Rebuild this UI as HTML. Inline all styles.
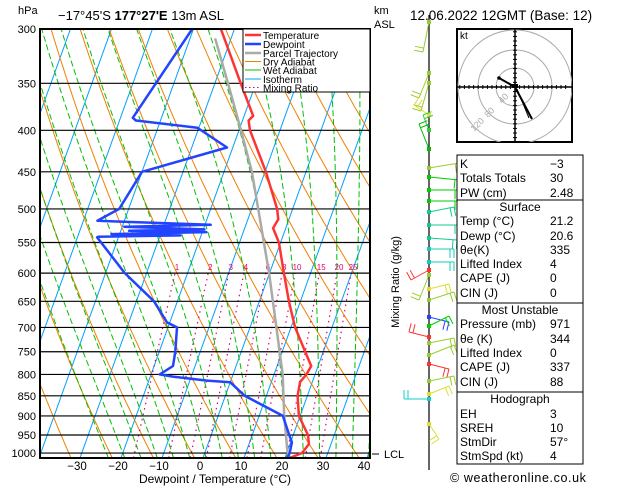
<!DOCTYPE html>
<html><head><meta charset="utf-8">
<style>
html,body{margin:0;padding:0;background:#fff;}
svg{display:block;font-family:"Liberation Sans",sans-serif;}
</style></head>
<body>
<svg id="chart" width="629" height="486" viewBox="0 0 629 486" xmlns="http://www.w3.org/2000/svg">
<defs><clipPath id="plotclip"><rect x="40" y="29" width="330" height="429"/></clipPath>
<clipPath id="hodoclip"><rect x="457" y="29" width="115" height="113"/></clipPath></defs>
<rect x="0" y="0" width="629" height="486" fill="#fff"/>
<g id="bg" clip-path="url(#plotclip)"></g>
<g id="grid"></g>
<g id="series" clip-path="url(#plotclip)"></g>
<rect x="40" y="29" width="330" height="429" fill="none" stroke="#000" stroke-width="2"/>
<g id="axes"></g>
<text x="18" y="14" font-size="11">hPa</text>
<text x="58" y="20" font-size="13">−17°45'S <tspan font-weight="bold">177°27'E</tspan> 13m ASL</text>
<text x="374" y="14" font-size="11">km</text>
<text x="374" y="28" font-size="11">ASL</text>
<text x="410" y="20" font-size="13.5">12.06.2022 12GMT (Base: 12)</text>
<text x="215" y="483" font-size="12" text-anchor="middle">Dewpoint / Temperature (°C)</text>
<text transform="translate(399,282) rotate(-90)" font-size="11" text-anchor="middle">Mixing Ratio (g/kg)</text>
<line x1="372" y1="454" x2="379" y2="454" stroke="#000"/>
<text x="384" y="458" font-size="11">LCL</text>
<g>
<rect x="243" y="29" width="127" height="63" fill="#fff" stroke="#000" stroke-width="1"/>
<line x1="245" y1="35" x2="261" y2="35" stroke="#f33" stroke-width="2.5"/>
<text x="263" y="39" font-size="10">Temperature</text>
<line x1="245" y1="44" x2="261" y2="44" stroke="#2244ff" stroke-width="2.5"/>
<text x="263" y="48" font-size="10">Dewpoint</text>
<line x1="245" y1="53" x2="261" y2="53" stroke="#aaa" stroke-width="2.5"/>
<text x="263" y="57" font-size="10">Parcel Trajectory</text>
<line x1="245" y1="61.5" x2="261" y2="61.5" stroke="#f08000"/>
<text x="263" y="65.5" font-size="10">Dry Adiabat</text>
<line x1="245" y1="70" x2="261" y2="70" stroke="#00c000"/>
<text x="263" y="74" font-size="10">Wet Adiabat</text>
<line x1="245" y1="79" x2="261" y2="79" stroke="#00a0ff"/>
<text x="263" y="83" font-size="10">Isotherm</text>
<line x1="245" y1="87.5" x2="261" y2="87.5" stroke="#e0007a" stroke-dasharray="1.5,2.5"/>
<text x="263" y="91.5" font-size="10">Mixing Ratio</text>
</g>
<g id="barbs"></g>
<g>
<rect x="457" y="29" width="115" height="113" fill="#fff" stroke="#000" stroke-width="2"/>
<g clip-path="url(#hodoclip)" fill="none" stroke="#aaa">
<circle cx="515" cy="87" r="19"/><circle cx="515" cy="87" r="37"/><circle cx="515" cy="87" r="57"/>
</g>
<g id="hodoaxes" stroke="#000"></g>
<text x="460" y="39" font-size="10">kt</text>
<g fill="#aaa" font-size="9">
<text transform="translate(502,104) rotate(-45)">40</text>
<text transform="translate(488,118) rotate(-45)">80</text>
<text transform="translate(474,132) rotate(-45)">120</text>
</g>
<polyline points="499,78 515,87 532,119" fill="none" stroke="#000" stroke-width="2"/>
<line x1="517" y1="89" x2="529" y2="118" stroke="#000" stroke-width="1"/>
<circle cx="499" cy="78" r="1.8" fill="#000"/>
<rect x="512" y="84" width="6" height="4" fill="#000"/>
</g>
<g id="tables" font-size="12"></g>
<text x="450" y="482" font-size="12.5" letter-spacing="0.6">© weatheronline.co.uk</text>
</svg>
<script>
const pressureLevels = [300,350,400,450,500,550,600,650,700,750,800,850,900,950,1000];
const tempTicks = [-30,-20,-10,0,10,20,30,40];
const mixingRatios = [1,2,3,4,6,8,10,15,20,25];
const tempP = [300,350,384,389,400,450,500,515,528,550,600,650,700,750,781,800,817,850,900,950,975,1000,1014];
const tempT = [-33.3,-23.7,-17.8,-18.5,-17.3,-9.8,-3.8,-2.6,-3.1,-0.4,3.5,7.2,11,15.6,18.3,17.9,17,17.6,19.7,23.6,24.6,23.7,21.2];
const dewP = [300,386,389,397,420,450,500,517,518,523,526,530,532,534,537,539,541,542,600,650,690,700,750,781,800,805,814,818,850,900,950,970,1000,1014];
const dewT = [-40.3,-47,-46,-30.4,-21.4,-40,-42.3,-46.6,-42.6,-18.6,-39.5,-19.7,-38,-19,-42,-25,-45,-45.2,-35.3,-25.7,-20.7,-17.8,-16.1,-15.4,-17.9,-14.5,-5.8,0,4.7,15.8,19,20.3,20.7,20.6];
const parcelP = [308,350,400,450,500,600,800,900,1000,1014];
const parcelT = [-33.9,-26.8,-19.5,-13.2,-8.4,-0.1,12.1,16.1,20.2,21.2];

const NS='http://www.w3.org/2000/svg';
function y(p){return 29+352.2*Math.log(p/300);}
function x(T,p){return 203+4.1*T+0.36*(458-y(p));}
function mk(tag,attrs,parent){const e=document.createElementNS(NS,tag);for(const k in attrs)e.setAttribute(k,attrs[k]);parent.appendChild(e);return e;}
const bg=document.getElementById('bg'),grid=document.getElementById('grid'),series=document.getElementById('series'),axes=document.getElementById('axes');
function pathFrom(pts){return 'M'+pts.map(q=>q[0].toFixed(1)+','+q[1].toFixed(1)).join('L');}
const PB=1014;
for(let T=-120;T<=50;T+=10){
  const e=mk('path',{d:pathFrom([[x(T,PB),y(PB)],[x(T,280),y(280)]]),stroke:'#00a0ff',fill:'none','stroke-width':1},bg);
  
  
}
for(let th=230;th<=480;th+=10){
  const pts=[];for(let p=PB;p>=290;p-=10){pts.push([x(th*Math.pow(p/1000,0.286)-273.15,p),y(p)]);}
  const e=mk('path',{d:pathFrom(pts),stroke:'#f08000',fill:'none','stroke-width':1},bg);
  
  
}
function es(T){return 6.112*Math.exp(17.67*T/(T+243.5));}
function lapse(Tk,pp){const e=es(Tk-273.15);const rs=0.622*e/(pp-e);const L=2.5e6,Rd=287,cp=1004;return (Rd*Tk+L*rs)/(cp+L*L*rs*0.622/(Rd*Tk*Tk))/pp;}
for(let tw=-24;tw<=40;tw+=4){
  let T=tw+273.15,p=1000;const pts=[];
  let Td=T,pd=1000;while(pd<PB){Td+=lapse(Td,pd)*2;pd+=2;}
  pts.push([x(Td-273.15,PB),y(PB)]);
  while(p>=290){pts.push([x(T-273.15,p),y(p)]);T-=lapse(T,p)*2;p-=2;}
  const e=mk('path',{d:pathFrom(pts),stroke:'#00c000',fill:'none','stroke-width':1,'stroke-dasharray':'6,3'},bg);
  
  
}
function tdFromW(w,p){const e=w*p/(622+w);const l=Math.log(e/6.112);return 243.5*l/(17.67-l);}
mixingRatios.forEach(w=>{
  const pts=[[x(tdFromW(w,PB),PB),y(PB)],[x(tdFromW(w,600),600),y(600)]];
  const e=mk('path',{d:pathFrom(pts),stroke:'#e0007a',fill:'none','stroke-width':1.2,'stroke-dasharray':'1.5,4'},bg);
  
  
  const t=mk('text',{x:x(tdFromW(w,600),600)+2,y:y(600)-3,'font-size':8,fill:'#e0007a','text-anchor':'middle'},bg);
  t.textContent=w;
  
  
});
pressureLevels.forEach(p=>{
  const l=mk('line',{x1:40,x2:370,y1:y(p),y2:y(p),stroke:'#000','stroke-width':1.2},grid);
  
  
  const t=mk('text',{x:36,y:y(p)+4,'font-size':11,'text-anchor':'end'},axes);
  t.textContent=p;
  
  
});
tempTicks.forEach(T=>{
  const t=mk('text',{x:x(T,PB)-3,y:470,'font-size':11.5,'text-anchor':'middle'},axes);
  t.textContent=T<0?'−'+(-T):T;
  
  
});
function profile(P,T,color,w,name){
  const pts=P.map((p,i)=>[x(T[i],p),y(p)]);
  const e=mk('path',{d:pathFrom(pts),stroke:color,fill:'none','stroke-width':w,'stroke-linejoin':'round'},series);
  
  
}
profile(parcelP,parcelT,'#aaa',2.5,'parcel-trajectory');
profile(tempP,tempT,'#f33',2.5,'temperature-line');
profile(dewP,dewT,'#2244ff',2.5,'dewpoint-line');

const ha=document.getElementById('hodoaxes');
mk('line',{x1:457,x2:572,y1:87,y2:87,'stroke-width':1.5},ha);
mk('line',{x1:515,x2:515,y1:29,y2:142,'stroke-width':1.5},ha);
for(let d=-55.2;d<=55.2;d+=4.6){mk('line',{x1:515+d,x2:515+d,y1:85,y2:89},ha);mk('line',{x1:513,x2:517,y1:87+d,y2:87+d},ha);}

const bb=document.getElementById('barbs');
mk('line',{x1:429,x2:429,y1:15,y2:470,stroke:'#000','stroke-width':1.2},bb);
const barbs=[[22,'#9c3',-6,30],[73,'#9c3',-10,25],[83,'#9c3',-8,28],[115,'#dd3',-15,-10],[130,'#3c3',-6,-15],[149,'#0b0',-10,-25],[168,'#9c3',30,-5],[177,'#0c0',30,3],[190,'#0c0',30,0],[201,'#0c0',30,0],[212,'#1c8',25,-5],[225,'#1c8',30,0],[238,'#1c8',28,2],[249,'#1cb',25,0],[262,'#1cb',25,0],[270,'#f33',-18,10],[275,'#9c3',-10,25],[289,'#dd3',20,-5],[300,'#9c3',25,-8],[317,'#24f',20,5],[326,'#0c0',20,-10],[337,'#f33',-20,-5],[343,'#9c3',25,-5],[355,'#9c3',25,-10],[364,'#f33',20,5],[381,'#9c3',25,-5],[394,'#dd3',20,-8],[399,'#1cc',-25,0],[424,'#dd3',10,15]];
barbs.forEach(b=>{
  const g=mk('g',{stroke:b[1],fill:'none','stroke-width':1},bb);
  
  
  mk('line',{x1:429,y1:b[0],x2:429+b[2],y2:b[0]+b[3]},g);
  const L=Math.hypot(b[2],b[3]);const ux=b[2]/L,uy=b[3]/L;
  for(let k=0;k<2;k++){const px=429+b[2]-ux*k*4,py=b[0]+b[3]-uy*k*4;mk('line',{x1:px,y1:py,x2:px-uy*9,y2:py+ux*9},g);}
  mk('rect',{x:427,y:b[0]-2,width:4,height:4,fill:b[1],stroke:'none'},bb);
});

const tb=document.getElementById('tables');
const boxes=[[155,200],[200,303],[303,392],[392,464]];
boxes.forEach(bx=>{mk('rect',{x:457,y:bx[0],width:126,height:bx[1]-bx[0],fill:'#fff',stroke:'#000','stroke-width':1},tb);});
const rows=[
 [168,'K','−3'],[182,'Totals Totals','30'],[197,'PW (cm)','2.48'],
 [211,'Surface',null],[225,'Temp (°C)','21.2'],[240,'Dewp (°C)','20.6'],[254,'θe(K)','335'],[268,'Lifted Index','4'],[282,'CAPE (J)','0'],[297,'CIN (J)','0'],
 [314,'Most Unstable',null],[328,'Pressure (mb)','971'],[343,'θe (K)','344'],[357,'Lifted Index','0'],[371,'CAPE (J)','337'],[386,'CIN (J)','88'],
 [403,'Hodograph',null],[418,'EH','3'],[432,'SREH','10'],[446,'StmDir','57°'],[460,'StmSpd (kt)','4']];
rows.forEach(r=>{
  if(r[2]===null){const t=mk('text',{x:520,y:r[0],'text-anchor':'middle'},tb);t.textContent=r[1];}
  else{const t=mk('text',{x:460,y:r[0]},tb);t.textContent=r[1];
  const v=mk('text',{x:550,y:r[0]},tb);v.textContent=r[2];}
});
</script>
</body></html>
